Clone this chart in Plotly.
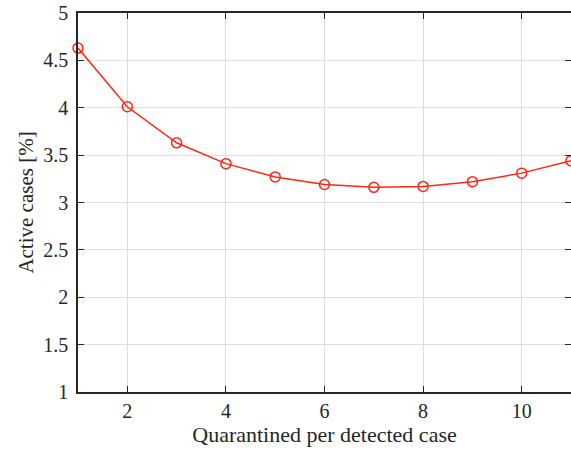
import plotly.graph_objects as go

quarantined = [1, 2, 3, 4, 5, 6, 7, 8, 9, 10, 11]
active_cases = [4.63, 4.01, 3.63, 3.41, 3.27, 3.19, 3.16, 3.17, 3.22, 3.31, 3.44]
x_ticks = [2, 4, 6, 8, 10]
y_ticks = [1, 1.5, 2, 2.5, 3, 3.5, 4, 4.5, 5]

red = "rgb(255,38,20)"
fig = go.Figure(go.Scatter(
    x=quarantined, y=active_cases, mode="lines+markers",
    line=dict(color=red, width=1.5),
    marker=dict(symbol="circle-open", size=10, color=red, line=dict(width=1.5, color=red)),
    cliponaxis=False,
))

family = "Liberation Serif, Times New Roman, serif"
tick_font = dict(family=family, size=20, color="#262626")
xtitle_font = dict(family=family, size=22, color="#262626")
ytitle_font = dict(family=family, size=21, color="#262626")
axis_common = dict(
    showgrid=True, gridcolor="#dedede", gridwidth=1,
    showline=True, linecolor="#262626", linewidth=1.5, mirror="ticks",
    ticks="inside", ticklen=6, tickcolor="#262626", tickwidth=1,
    zeroline=False, tickfont=tick_font, automargin=False,
)
fig.update_xaxes(range=[1, 11], tickvals=x_ticks,
                 title=dict(text="Quarantined per detected case", font=xtitle_font, standoff=4),
                 **axis_common)
fig.update_yaxes(range=[1, 5], tickvals=y_ticks, ticktext=[str(v) for v in y_ticks],
                 title=dict(text="Active cases [%]", font=ytitle_font, standoff=4),
                 ticklabelstandoff=4,
                 **axis_common)
fig.update_layout(
    width=571, height=450, margin=dict(l=78, r=0, t=13, b=58),
    plot_bgcolor="white", paper_bgcolor="white", showlegend=False, font=tick_font,
)
fig.write_html("out.html", config={"displayModeBar": False},
               post_script="document.body.style.margin='0';document.body.style.overflow='hidden';")
